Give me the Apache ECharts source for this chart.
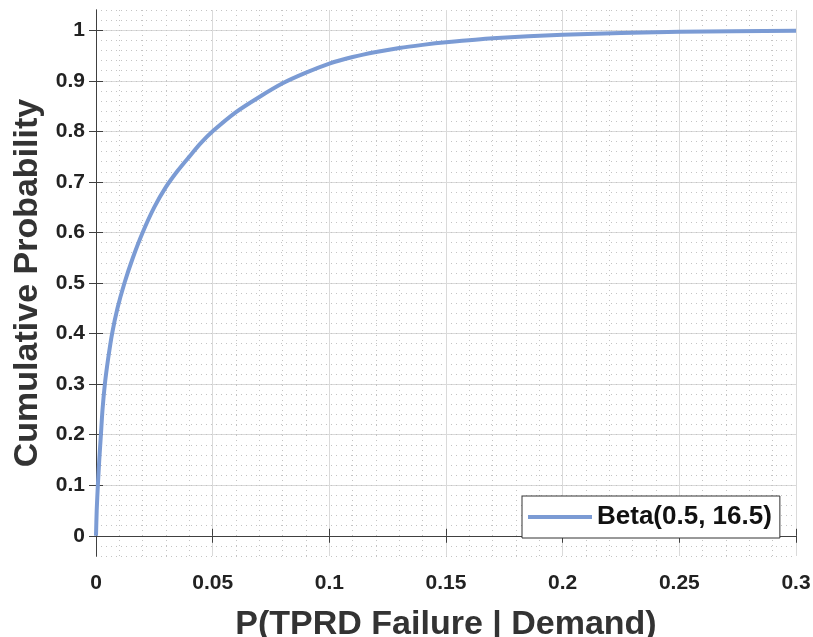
<!DOCTYPE html>
<html>
<head>
<meta charset="utf-8">
<title>Beta CDF</title>
<script src="https://cdn.jsdelivr.net/npm/echarts@6/dist/echarts.min.js"></script>
<style>
  html, body { margin: 0; padding: 0; background: #fff; }
  #chart { width: 813px; height: 637px; }
</style>
</head>
<body>
<div id="chart"></div>
<script>
// values
var xVals = [0, 0.0003, 0.0008, 0.0014, 0.0021, 0.0028, 0.0038, 0.0052, 0.0069, 0.0092, 0.0122, 0.0158,
  0.02, 0.025, 0.03, 0.035, 0.04, 0.045, 0.05, 0.06, 0.07, 0.08, 0.09, 0.1, 0.11, 0.12, 0.13, 0.14, 0.15,
  0.17, 0.2, 0.25, 0.3];
var yVals = [0, 0.05, 0.1, 0.15, 0.2, 0.25, 0.3, 0.35, 0.4, 0.45, 0.5, 0.55,
  0.6, 0.65, 0.69, 0.722, 0.75, 0.777, 0.8, 0.838, 0.868, 0.895, 0.916, 0.934, 0.947, 0.957, 0.965, 0.971, 0.976,
  0.984, 0.991, 0.997, 0.999];
var yTicks = [0, 0.1, 0.2, 0.3, 0.4, 0.5, 0.6, 0.7, 0.8, 0.9, 1];
var seriesName = "Beta(0.5, 16.5)";

var font = "'Liberation Sans', Arial, sans-serif";
var frameColor = "#404040";
var majorGrid = { show: true, lineStyle: { color: "#dadada", width: 1 } };
var minorGrid = { show: true, lineStyle: { color: "#c4c4c4", width: 1, type: [1, 4] } };

var points = xVals.map(function (x, i) { return [x, yVals[i]]; });

var myChart = echarts.init(document.getElementById("chart"));
myChart.setOption({
  backgroundColor: "#fff",
  animation: false,
  grid: { left: 96, right: 17, top: 10, bottom: 81, containLabel: false, outerBoundsMode: "none" },
  legend: {
    data: [seriesName],
    left: 522,
    top: 496,
    orient: "vertical",
    icon: "rect",
    itemWidth: 64,
    itemHeight: 4,
    padding: [8, 8, 8, 6],
    borderColor: "#333",
    borderWidth: 1,
    backgroundColor: "#fff",
    textStyle: { fontFamily: font, fontSize: 26, fontWeight: "bold", color: "#111" }
  },
  xAxis: [
    {
      type: "value",
      min: 0,
      max: 0.3,
      interval: 0.05,
      name: "P(TPRD Failure | Demand)",
      nameLocation: "middle",
      nameGap: 52,
      nameTextStyle: { fontFamily: font, fontSize: 34, fontWeight: "bold", color: "#333" },
      axisLine: { show: true, lineStyle: { color: frameColor, width: 1 } },
      axisTick: { show: true, inside: true, length: 7, lineStyle: { color: frameColor } },
      axisLabel: { margin: 17, fontFamily: font, fontSize: 21, fontWeight: "bold", color: "#222" },
      splitLine: majorGrid,
      minorTick: { show: false, splitNumber: 5 },
      minorSplitLine: minorGrid
    },
    {
      type: "value",
      position: "top",
      min: 0,
      max: 0.3,
      interval: 0.05,
      axisLine: { show: true, lineStyle: { color: frameColor, width: 1 } },
      axisTick: { show: true, inside: true, length: 7, lineStyle: { color: frameColor } },
      axisLabel: { show: false },
      splitLine: { show: false }
    }
  ],
  yAxis: [
    {
      type: "value",
      min: -0.04,
      max: 1.04,
      name: "Cumulative Probability",
      nameLocation: "middle",
      nameGap: 50,
      nameTextStyle: { fontFamily: font, fontSize: 34, fontWeight: "bold", color: "#333" },
      axisLine: { show: true, lineStyle: { color: frameColor, width: 1 } },
      axisTick: { show: true, inside: true, length: 7, customValues: yTicks, lineStyle: { color: frameColor } },
      axisLabel: { margin: 11, customValues: yTicks, fontFamily: font, fontSize: 21, fontWeight: "bold", color: "#222" },
      splitLine: majorGrid
    },
    {
      type: "value",
      position: "right",
      min: -0.04,
      max: 1.04,
      axisLine: { show: true, lineStyle: { color: frameColor, width: 1 } },
      axisTick: { show: true, inside: true, length: 7, customValues: yTicks, lineStyle: { color: frameColor } },
      axisLabel: { show: false },
      splitLine: { show: false }
    },
    {
      // minor grid only
      type: "value",
      position: "left",
      min: -0.04,
      max: 1.04,
      interval: 0.02,
      axisLine: { show: false },
      axisTick: { show: false },
      axisLabel: { show: false },
      splitLine: minorGrid,
      z: 0
    }
  ],
  series: [
    {
      name: seriesName,
      type: "line",
      xAxisIndex: 0,
      yAxisIndex: 0,
      data: points,
      smooth: 0.25,
      showSymbol: false,
      symbol: "none",
      color: "#7b9bd4",
      lineStyle: { color: "#7b9bd4", width: 4 },
      z: 5
    }
  ]
});
</script>
</body>
</html>
